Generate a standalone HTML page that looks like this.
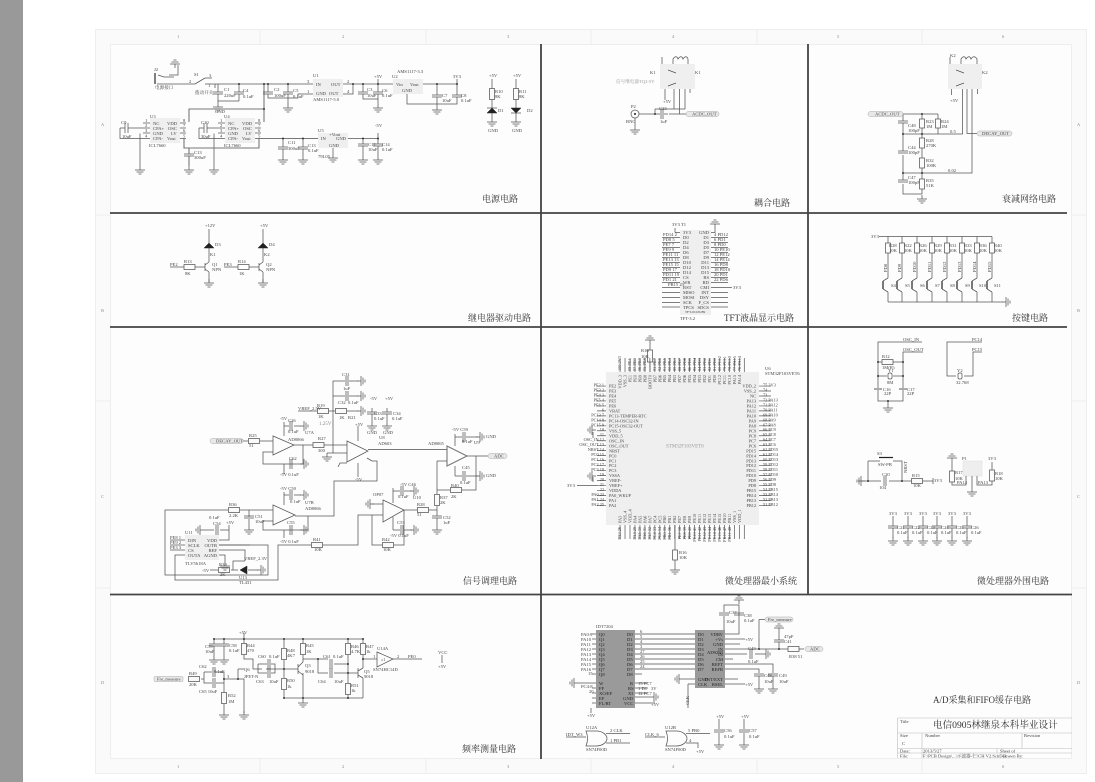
<!DOCTYPE html>
<html><head><meta charset="utf-8"><style>
html,body{margin:0;padding:0;background:#fff}
svg{display:block}
text{font-family:"Liberation Serif","Noto Serif CJK SC",serif;font-size:4.6px;fill:#444}
.w,.w *{fill:none;stroke:#555;stroke-width:.75}
.t{stroke-width:1.1;stroke:#777}
.b{fill:#222;stroke:#222;stroke-width:.5}
.e{text-anchor:end}
.h{font-family:"Liberation Serif","Noto Serif CJK SC",serif;font-size:9px;fill:#333}
.m{font-size:4.3px}
.z{font-size:4.5px;fill:#888}
.p{fill:#e8e8e8;stroke:#aaa;stroke-width:.5}
.c{fill:#efefef;stroke:none}
</style></head><body>
<svg width="1095" height="782" viewBox="0 0 1095 782" xmlns="http://www.w3.org/2000/svg">
<defs>
<g id="g" class="w"><path d="M0-4V0M-5 0H5M-3.5 2H3.5M-1.5 4H1.5"/></g>
<g id="gr" class="w"><path d="M-4 0H0M0-5V5M2-3.5V3.5M4-1.5V1.5"/></g>
<g id="gl" class="w"><path d="M4 0H0M0-5V5M-2-3.5V3.5M-4-1.5V1.5"/></g>
<g id="gu" class="w"><path d="M0 4V0M-5 0H5M-3.5-2H3.5M-1.5-4H1.5"/></g>
<g id="rv" class="w"><rect x="-2.5" y="-5.5" width="5" height="11" style="fill:#fafafa"/></g>
<g id="rh" class="w"><rect x="-5.5" y="-2.5" width="11" height="5" style="fill:#fafafa"/></g>
<g id="cv" class="w"><path d="M-5-1H5M-5 1H5"/></g>
<g id="ch" class="w"><path d="M-1-5V5M1-5V5"/></g>
<circle id="d" r="1" fill="#333"/>
</defs>
<rect width="1095" height="782" fill="#fff"/>
<rect x="0" y="0" width="23" height="782" fill="#999"/>
<rect x="95.5" y="29.5" width="991" height="744" fill="#fafafa" stroke="#eee"/>
<rect x="110.5" y="44.5" width="961" height="714" fill="#fdfdfd" stroke="#eee"/>
<path stroke="#eee" fill="none" d="M260 29V44M426 29V44M591 29V44M757 29V44M922 29V44M260 759V774M426 759V774M591 759V774M757 759V774M922 759V774M95 215H110M95 401H110M95 588H110M1072 215H1087M1072 401H1087M1072 588H1087"/>
<text class="z" x="177" y="38">1</text><text class="z" x="342" y="38">2</text><text class="z" x="507" y="38">3</text><text class="z" x="672" y="38">4</text><text class="z" x="837" y="38">5</text><text class="z" x="1002" y="38">6</text>
<text class="z" x="177" y="768">1</text><text class="z" x="342" y="768">2</text><text class="z" x="507" y="768">3</text><text class="z" x="672" y="768">4</text><text class="z" x="837" y="768">5</text><text class="z" x="1002" y="768">6</text>
<text class="z" x="101" y="126">A</text><text class="z" x="101" y="312">B</text><text class="z" x="101" y="498">C</text><text class="z" x="101" y="684">D</text>
<text class="z" x="1077" y="126">A</text><text class="z" x="1077" y="312">B</text><text class="z" x="1077" y="498">C</text><text class="z" x="1077" y="684">D</text>
<path fill="none" stroke="#444" stroke-width="1.8" d="M110 213H1067M110 327H1067M110 594.5H1072M541 44V759M808 44V594"/>

<!-- 电源 -->
<rect class="c" x="150" y="118" width="30" height="25"/><rect class="c" x="225" y="118" width="30" height="25"/>
<rect class="c" x="313" y="79" width="30" height="18"/><rect class="c" x="393" y="79" width="30" height="15"/><rect class="c" x="318" y="133" width="30" height="15"/>
<path class="w" d="M154.5 73V84M155.5 73V84M157 84H195M195 84L205 78M205 78H212M205 84H215V88M158 75L164 77H174M169 75H178V65M215 84H313M218 84V92M218 94V103M239 84V92M239 94V101M218 101H239M268 84V92M268 94V98H288V94M288 84V92M288 98V104M288 98H298V94H313"/>
<path class="w t" d="M264 84V109H189V122M264 109V122"/>
<path class="w" d="M343 84H393M343 94H353V84M363 84V92M363 94V99H378V94M378 79V92M378 99V104M423 84H457V79M437 84V95M437 97V106M407 94V104H457V97M457 84V95M492 79V89M492 99V108M492 113V118M516 79V89M516 99V108M516 113V118"/>
<path class="w" d="M143 123H150M143 128H150M143 133H150M143 138.5H150M180 123H186M180 128H186M180 133H186M180 138.5H186M218 123H225M218 128H225M218 133H225M218 138.5H225M255 123H261M255 128H261M255 133H261M255 138.5H261M120 128H125M128 128H143M120 128V138.5H143M140 133.5V166M199 128H204M207 128H218M199 128V138.5H218M214 133.5V166"/>
<path class="w t" d="M184 138.5V148H259V138.5H318M189 148V154M189 156V166"/>
<path class="w" d="M283 138.5V147M283 149V156M303 138.5V147M303 149V156M348 138.5H378V133M363 138.5V144M363 146V156M378 138.5V144M378 146V156M333 148V154"/>
<path class="w" d="M213 92H223M213 94H223M234 92H244M234 94H244M263 92H273M263 94H273M283 92H293M283 94H293M358 92H368M373 92H383M358 94H368M373 94H383M432 95H442M432 97H442M452 95H462M452 97H462M125 123V133M128 123V133M204 123V133M207 123V133M184 154H194M184 156H194M278 147H288M278 149H288M298 147H308M298 149H308M358 144H368M358 146H368M373 144H383M373 146H383"/>
<polygon class="b" points="487,113 497,113 492,108"/><path class="w" d="M487 108H497"/>
<polygon class="b" points="511,108 521,108 516,113"/><path class="w" d="M511 113H521"/>
<use href="#rv" x="492" y="94"/><use href="#rv" x="516" y="94"/>
<use href="#g" x="218" y="107"/><use href="#g" x="288" y="108"/><use href="#g" x="378" y="108"/><use href="#g" x="437" y="110"/><use href="#g" x="492" y="122"/><use href="#g" x="516" y="122"/><use href="#g" x="140" y="170"/><use href="#g" x="189" y="170"/><use href="#g" x="214" y="170"/><use href="#g" x="283" y="160"/><use href="#g" x="303" y="160"/><use href="#g" x="363" y="160"/><use href="#g" x="378" y="160"/><use href="#g" x="333" y="158"/><use href="#gu" x="175" y="64"/>
<use href="#d" x="264" y="84"/><use href="#d" x="239" y="84"/><use href="#d" x="288" y="84"/><use href="#d" x="268" y="84"/><use href="#d" x="353" y="84"/><use href="#d" x="363" y="84"/><use href="#d" x="378" y="84"/><use href="#d" x="437" y="84"/><use href="#d" x="457" y="84"/><use href="#d" x="264" y="109"/><use href="#d" x="283" y="138.5"/><use href="#d" x="303" y="138.5"/><use href="#d" x="363" y="138.5"/><use href="#d" x="378" y="138.5"/>
<text x="154" y="71">J2</text><text x="155" y="89">电源接口</text><text x="194" y="76">S1</text><text x="195" y="94">拨动开关</text><text x="189" y="83">2</text><text x="209" y="77">3</text><text x="208" y="87">1</text>
<text x="224" y="91">C1</text><text x="224" y="97">220uF</text><text x="243" y="92">C4</text><text x="243" y="98">0.1uF</text><text x="274" y="91">C2</text><text x="274" y="97">100uF</text><text x="293" y="92">C5</text><text x="293" y="98">0.1uF</text>
<text x="313" y="77">U1</text><text x="316" y="86">IN</text><text x="331" y="86">OUT</text><text x="316" y="95">GND</text><text x="329" y="95">OUT</text><text x="313" y="101">AMS1117-5.0</text><text x="347" y="83">2</text><text x="347" y="93">4</text><text x="307" y="83">3</text><text x="307" y="93">1</text>
<text x="367" y="91">C3</text><text x="367" y="97">10uF</text><text x="382" y="92">C6</text><text x="382" y="97">0.1uF</text><text x="374" y="78">+5V</text><text x="392" y="78">U2</text><text x="397" y="73">AMS1117-3.3</text><text x="396" y="86">Vin</text><text x="410" y="86">Vout</text><text x="402" y="92">GND</text>
<text x="442" y="97">C7</text><text x="442" y="102">10uF</text><text x="461" y="97">C8</text><text x="461" y="102">0.1uF</text><text x="453" y="78">3V3</text><text x="215" y="113">GND</text>
<text x="489" y="77">+5V</text><text x="513" y="77">+5V</text><text x="495" y="93">R10</text><text x="495" y="98">8K</text><text x="519" y="93">R11</text><text x="519" y="98">8K</text><text x="498" y="112">D1</text><text x="527" y="112">D2</text><text x="488" y="132">GND</text><text x="512" y="132">GND</text>
<text x="121" y="124">C9</text><text x="122" y="138">10uF</text><text x="150" y="118">U3</text><text x="153" y="125">NC</text><text x="153" y="130">CPA+</text><text x="153" y="135">GND</text><text x="153" y="140">CPA-</text><text x="167" y="125">VDD</text><text x="168" y="130">OSC</text><text x="171" y="135">LV</text><text x="167" y="140">Vout</text><text x="149" y="147">ICL7660</text>
<text x="145" y="122">1</text><text x="145" y="127">2</text><text x="145" y="132">3</text><text x="145" y="137.500">4</text><text x="183" y="122">8</text><text x="183" y="127">7</text><text x="183" y="132">6</text><text x="183" y="137.500">5</text><text x="220" y="122">1</text><text x="220" y="127">2</text><text x="220" y="132">3</text><text x="220" y="137.500">4</text><text x="258" y="122">8</text><text x="258" y="127">7</text><text x="258" y="132">6</text><text x="258" y="137.500">5</text>
<text x="201" y="124">C10</text><text x="201" y="138">30uF</text><text x="224" y="118">U4</text><text x="228" y="125">NC</text><text x="228" y="130">CPA+</text><text x="228" y="135">GND</text><text x="228" y="140">CPA-</text><text x="242" y="125">VDD</text><text x="243" y="130">OSC</text><text x="246" y="135">LV</text><text x="242" y="140">Vout</text><text x="224" y="147">ICL7660</text>
<text x="194" y="154">C13</text><text x="194" y="159">300uF</text><text x="288" y="144">C11</text><text x="288" y="150">300uF</text><text x="308" y="147">C13</text><text x="308" y="152">0.1uF</text><text x="318" y="132">U5</text><text x="329" y="136">+Vout</text><text x="321" y="140">IN</text><text x="336" y="140">GND</text><text x="329" y="147">GND</text><text x="318" y="158">79L05</text>
<text x="368" y="146">C12</text><text x="368" y="151">10uF</text><text x="382" y="146">C14</text><text x="382" y="151">0.1uF</text><text x="375" y="127">-5V</text>
<text class="h" x="482" y="202">电源电路</text>

<!-- 耦合 -->
<rect class="c" x="660" y="64" width="35" height="25"/>
<path class="w" d="M662 64V57M673 64V59C675 56 677 56 678 59C680 56 682 56 683 59C685 56 687 56 688 59V64M665 89V100M674 89V109M679.5 89V114M685 89V109M690 89V93M655 109H685M639 114H660M664 114H668M669 114H686M655 109V114M635 118V126M668 70L676 73M668 86L676 83"/>
<circle class="w" cx="635" cy="114" r="4"/><circle cx="635" cy="114" r="1" fill="#222"/><use href="#ch" x="662" y="114"/><use href="#g" x="635" y="130"/><use href="#d" x="655" y="114"/>
<text x="650" y="74">K1</text><text x="695" y="74">K1</text><text x="616" y="83" style="fill:#999">信号继电器TQ2-5V</text><text x="631" y="108">P2</text><text x="626" y="123">BNC</text><text x="659" y="110">C33</text><text x="660" y="123">1uF</text><text x="663" y="103">+5V</text>
<rect class="p" x="686" y="111.5" width="33" height="5" rx="2.5"/><text x="692" y="115.700">ACDC_OUT</text>
<text class="h" x="754" y="206">耦合电路</text>
<rect class="c" x="948" y="64" width="34" height="25"/>
<path class="w" d="M950 64V57M961 64V59C963 56 965 56 966 59C968 56 970 56 971 59C973 56 975 56 977 59V64M951.5 89V95M962.5 89V134H903M967 89V133.5H977M972 89V173H903M977.5 89V94M903 114V121M903 123V151M903 155V180M903 184V194H922M903 114H938M922 114V119M922 128V138M922 148V158M922 168V179M922 189V194M938 114V119M938 128V134M956 70L964 73M956 86L964 83"/>
<rect class="w" x="919.5" y="119" width="5" height="9"/><rect class="w" x="935.5" y="119" width="5" height="9"/><rect class="w" x="919.5" y="138" width="5" height="10"/><rect class="w" x="919.5" y="158" width="5" height="10"/><rect class="w" x="919.5" y="179" width="5" height="10"/>
<path class="w" d="M898 121H908M898 123H908M898 151H908M898 153H908M898 180H908M898 182H908"/><use href="#g" x="922" y="199"/><use href="#d" x="922" y="114"/><use href="#d" x="922" y="134"/><use href="#d" x="922" y="173"/><use href="#d" x="903" y="134"/><use href="#d" x="903" y="173"/>
<text x="950" y="57">K2</text><text x="982" y="74">K2</text><text x="950" y="102">+5V</text><rect class="p" x="868" y="111.5" width="35" height="5" rx="2.5"/><text x="875" y="115.700">ACDC_OUT</text><rect class="p" x="977" y="131" width="35" height="5" rx="2.5"/><text x="982" y="135.200">DECAY_OUT</text>
<text x="926" y="123">R23</text><text x="926" y="128">1M</text><text x="941" y="123">R24</text><text x="941" y="128">1M</text><text x="950" y="133">0.5</text><text x="926" y="142">R28</text><text x="926" y="147">270K</text><text x="926" y="162">R32</text><text x="926" y="167">100K</text><text x="948" y="172">0.02</text><text x="926" y="182">R35</text><text x="926" y="187">51K</text><text x="908" y="127">C48</text><text x="908" y="132">100pF</text><text x="908" y="149">C44</text><text x="908" y="154">100pF</text><text x="908" y="179">C47</text><text x="908" y="184">100pF</text>
<text class="h" x="1002" y="202">衰减网络电路</text>

<!-- 继电器驱动 -->
<path class="w" d="M209 229V243M209 248V262M170 267H184M195 267H205M205 263V271M205 265L209 262M205 269L209 272M209 272V282M263 229V243M263 248V262M224 267H238M249 267H259M259 263V271M259 265L263 262M259 269L263 272M263 272V282"/>
<rect class="w" x="184" y="264.5" width="11" height="5"/><rect class="w" x="238" y="264.5" width="11" height="5"/>
<polygon class="b" points="204,248 214,248 209,243"/><polygon class="b" points="258,248 268,248 263,243"/><use href="#g" x="209" y="283"/><use href="#g" x="263" y="283"/>
<text x="205" y="227">+12V</text><text x="260" y="227">+5V</text><text x="215" y="246">D3</text><text x="269" y="246">D4</text><text x="210" y="256">K1</text><text x="264" y="256">K2</text><text x="212" y="266">Q1</text><text x="212" y="271">NPN</text><text x="266" y="266">Q2</text><text x="266" y="271">NPN</text><text x="170" y="266">PE2</text><text x="224" y="266">PE3</text><text x="184" y="263">R13</text><text x="238" y="263">R14</text><text x="185" y="275">8K</text><text x="239" y="275">1K</text>
<text class="h" x="468" y="321">继电器驱动电路</text>

<!-- TFT -->
<rect class="c" x="680" y="230" width="31" height="85"/>
<path class="w" d="M662 237.5H680M662 242.5H680M662 247.5H680M662 252.5H680M662 257.5H680M662 262.5H680M662 267.5H680M662 272.5H680M662 277.5H680M662 282.5H680M662 287.5H680M662 292.5H680M662 297.5H680M662 302.5H680M662 307H680M711 232.5H715V228M711 237.5H728M711 242.5H728M711 247.5H728M711 252.5H728M711 257.5H728M711 262.5H728M711 267.5H728M711 272.5H728M711 277.5H728M711 282.5H728M711 287.5H732M711 292.5H728M711 297.5H728M711 302.5H728M711 307H728M675 232.5H680M675 232.5V228"/>
<use href="#gu" x="715" y="224"/>
<text x="672" y="226">3V3</text><text x="681" y="226">T1</text><text x="683" y="234">3V3</text><text x="683" y="239">D0</text><text x="683" y="244">D2</text><text x="683" y="249">D4</text><text x="683" y="254">D6</text><text x="683" y="259">D8</text><text x="683" y="264">D10</text><text x="683" y="269">D12</text><text x="683" y="274">D14</text><text x="683" y="279">CS</text><text x="683" y="284">WR</text><text x="683" y="289">RST</text><text x="683" y="294">MISO</text><text x="683" y="299">MOSI</text><text x="683" y="304">SCK</text><text x="683" y="309">TPCS</text>
<text class="e" x="709" y="234">GND</text><text class="e" x="709" y="239">D1</text><text class="e" x="709" y="244">D3</text><text class="e" x="709" y="249">D5</text><text class="e" x="709" y="254">D7</text><text class="e" x="709" y="259">D9</text><text class="e" x="709" y="264">D11</text><text class="e" x="709" y="269">D13</text><text class="e" x="709" y="274">D15</text><text class="e" x="709" y="279">RS</text><text class="e" x="709" y="284">RD</text><text class="e" x="709" y="289">CMI</text><text class="e" x="709" y="294">INT</text><text class="e" x="709" y="299">DSY</text><text class="e" x="709" y="304">F_CS</text><text class="e" x="709" y="309">SDCS</text>
<text x="663" y="236">PD14 2</text><text x="663" y="241">PD8 5</text><text x="663" y="246">PE7 7</text><text x="663" y="251">PE9 9</text><text x="663" y="256">PE11 11</text><text x="663" y="261">PE13 13</text><text x="663" y="266">PE15 15</text><text x="663" y="271">PD9 17</text><text x="663" y="276">PD11 19</text><text x="663" y="281">PD1 21</text><text x="668" y="286">PB15 23</text>
<text x="714" y="236">4 PD12</text><text x="714" y="241">6 PD1</text><text x="714" y="246">8 PD0</text><text x="714" y="251">10 PE10</text><text x="714" y="256">12 PE12</text><text x="714" y="261">14 PE14</text><text x="714" y="266">16 PD8</text><text x="714" y="271">18 PD10</text><text x="714" y="276">20 PD1</text><text x="714" y="281">22 PD6</text><text x="733" y="289">3V3</text>
<text x="685" y="313" style="font-size:3.5px">TFT-010/0289</text><text x="680" y="320">TFT-3.2</text>
<text class="h" x="724" y="321">TFT液晶显示电路</text>

<!-- 按键 -->
<path class="w" d="M879 236.5H992M888 236.5V243M902 236.5V243M917 236.5V243M932 236.5V243M947 236.5V243M962 236.5V243M977 236.5V243M992 236.5V243M888 253V278M902 253V278M917 253V278M932 253V278M947 253V278M962 253V278M977 253V278M992 253V278M888 292V302M902 292V302M917 292V302M932 292V302M947 292V302M962 292V302M977 292V302M992 292V302M888 302H1003"/>
<rect class="w" x="885.5" y="243" width="5" height="10"/><rect class="w" x="899.5" y="243" width="5" height="10"/><rect class="w" x="914.5" y="243" width="5" height="10"/><rect class="w" x="929.5" y="243" width="5" height="10"/><rect class="w" x="944.5" y="243" width="5" height="10"/><rect class="w" x="959.5" y="243" width="5" height="10"/><rect class="w" x="974.5" y="243" width="5" height="10"/><rect class="w" x="989.5" y="243" width="5" height="10"/>
<path fill="none" stroke="#222" stroke-width="1.2" d="M883 281V289M897 281V289M912 281V289M927 281V289M942 281V289M957 281V289M972 281V289M987 281V289"/>
<path class="w" d="M888 278L883 281M902 278L897 281M917 278L912 281M932 278L927 281M947 278L942 281M962 278L957 281M977 278L972 281M992 278L987 281M888 292L883 289M902 292L897 289M917 292L912 289M932 292L927 289M947 292L942 289M962 292L957 289M977 292L972 289M992 292L987 289"/>
<use href="#gr" x="1006" y="302"/>
<text x="871" y="238">3V3</text><text x="889" y="247">R28</text><text x="889" y="252">10K</text><text x="904" y="247">R22</text><text x="904" y="252">10K</text><text x="919" y="247">R26</text><text x="919" y="252">10K</text><text x="934" y="247">R29</text><text x="934" y="252">10K</text><text x="949" y="247">R31</text><text x="949" y="252">10K</text><text x="964" y="247">R33</text><text x="964" y="252">10K</text><text x="979" y="247">R36</text><text x="979" y="252">10K</text><text x="994" y="247">R40</text><text x="994" y="252">10K</text>
<text transform="translate(887 272)rotate(-90)">PD8</text><text transform="translate(901 272)rotate(-90)">PD9</text><text transform="translate(916 272)rotate(-90)">PD10</text><text transform="translate(931 272)rotate(-90)">PD11</text><text transform="translate(946 272)rotate(-90)">PD12</text><text transform="translate(961 272)rotate(-90)">PD13</text><text transform="translate(976 272)rotate(-90)">PD14</text><text transform="translate(991 272)rotate(-90)">PD15</text>
<text x="891" y="287">S4</text><text x="905" y="287">S5</text><text x="920" y="287">S6</text><text x="935" y="287">S7</text><text x="950" y="287">S8</text><text x="965" y="287">S9</text><text x="979" y="287">S10</text><text x="994" y="287">S11</text>
<text class="h" x="1012" y="321">按键电路</text>

<!-- 信号调理 -->
<path class="w t" d="M368 449.5H447"/>
<path class="w" d="M243 441H248M260 441H273M294 445H313M324 445H347M303 445V464H263V452H273M284 422V436M284 426H289M294 426H301M284 464V474M284 464H289M294 464H301M333 453V381H345M349 381H358M333 396H345M349 396H358M333 411H318M298 411H317M329 411H335M347 411H358M333 453H347M327 453H333M347 463H340L338 467M372 408V412M372 414V422M387 408V412M387 414V422M358 426V441M358 463V477"/>
<polygon class="w" points="273,436 273,455 294,445"/><polygon class="w" points="347,441 347,462 368,451"/><polygon class="w t" points="447,446 447,466 467,456"/><polygon class="w" points="273,505 273,525 295,515"/><polygon class="w" points="383,500 383,522 404,510"/>
<path class="w" d="M367 458L372 461H377V481H334V516H295M308 516V530H263V521H273M273 510H240M228 510H165V575H268V545H218M249 510V517M249 519V526M284 492V505M284 495H289M294 495H301M284 530V538M284 530H289M294 530H301M467 456H488M476 456V490H462M450 490H437M437 461H447M437 461V494M437 506V516M437 518V526M404 510H417M429 510H437M372 504H383M383 515H358V545H323M311 545H278V580H175V555H185M372 515V545H382M394 545H404V510"/>
<path class="w" d="M244 516H254M244 518H254M432 516H442M432 518H442M367 412H377M367 414H377M382 412H392M382 414H392"/>
<path class="w" d="M455 446V434M455 437H462M466 437H478M455 466V476M455 476H462M466 476H478M393 503V488M393 491H400M404 491H412M393 517V530M393 530H400M404 530H412"/>
<use href="#ch" x="291" y="426"/><use href="#ch" x="291" y="464"/><use href="#ch" x="347" y="381"/><use href="#ch" x="347" y="396"/><use href="#ch" x="291" y="495"/><use href="#ch" x="291" y="530"/><use href="#ch" x="464" y="437"/><use href="#ch" x="464" y="476"/><use href="#ch" x="402" y="491"/><use href="#ch" x="402" y="530"/>
<use href="#rh" x="254" y="441"/><use href="#rh" x="318.5" y="445"/><use href="#rh" x="323" y="411"/><use href="#rh" x="341" y="411"/><use href="#rh" x="234" y="510"/><use href="#rh" x="423" y="510"/><use href="#rh" x="456" y="490"/><use href="#rh" x="317" y="545"/><use href="#rh" x="388" y="545"/><use href="#rv" x="437" y="500"/>
<use href="#gr" x="304" y="426"/><use href="#gr" x="304" y="464"/><use href="#gr" x="361" y="381"/><use href="#gr" x="361" y="396"/><use href="#gr" x="361" y="411"/><use href="#gr" x="304" y="495"/><use href="#gr" x="304" y="530"/><use href="#gr" x="480" y="437"/><use href="#gr" x="480" y="476"/><use href="#gr" x="414" y="491"/><use href="#gr" x="414" y="530"/><use href="#gl" x="370" y="504"/><use href="#g" x="327" y="457"/><use href="#g" x="372" y="426"/><use href="#g" x="387" y="426"/><use href="#g" x="249" y="530"/><use href="#g" x="437" y="530"/>
<rect class="p" x="210" y="438.5" width="33" height="5" rx="2.5"/><text x="216" y="442.700">DECAY_OUT</text><rect class="p" x="488" y="453.5" width="19" height="5" rx="2.5"/><text x="494" y="457.700">ADC</text>
<text x="249" y="437">R25</text><text x="249" y="447">51</text><text x="318" y="440">R27</text><text x="318" y="452">300</text><text x="317" y="407">R19</text><text x="318" y="418">1K</text><text x="339" y="419">1K</text><text x="348" y="419">R21</text><text x="298" y="410">VREF_2.5V</text><text x="319" y="425" style="font-size:5px;fill:#888">1.25V</text>
<text x="342" y="376">C31</text><text x="343" y="390">1uF</text><text x="338" y="404">C32</text><text x="348" y="404">0.1uF</text><text x="370" y="400">-5V</text><text x="385" y="400">+5V</text><text x="374" y="415">C33</text><text x="393" y="415">C34</text><text x="374" y="420">0.1uF</text><text x="392" y="420">0.1uF</text><text x="367" y="434">GND</text><text x="383" y="434">GND</text>
<text x="280" y="420">-5V</text><text x="288" y="422">C26</text><text x="288" y="433">0.1uF</text><text x="305" y="434">U7A</text><text x="288" y="441">AD8066</text><text x="289" y="460">C62</text><text x="280" y="476">-5V 0.1uF</text><text x="355" y="426">+5V</text><text x="379" y="439">U8</text><text x="378" y="445">AD603</text><text x="355" y="481">-5V</text><text x="428" y="445">AD8065</text><text x="474" y="444">U9</text><text x="452" y="431">-5V C59</text><text x="462" y="443">0.1uF</text><text x="486" y="438">GND</text><text x="486" y="477">GND</text><text x="462" y="469">C45</text><text x="460" y="484">0.1uF</text><text x="451" y="487">R40</text><text x="451" y="498">2K</text><text x="440" y="499">R37</text><text x="440" y="504">2K</text><text x="443" y="519">C52</text><text x="443" y="524">1uF</text>
<text x="373" y="496">OP07</text><text x="400" y="486">-5V C46</text><text x="398" y="498">0.1uF</text><text x="413" y="499">U10</text><text x="397" y="524">C53</text><text x="390" y="537">-5V 0.1uF</text><text x="417" y="506">R28</text><text x="417" y="516">51</text><text x="382" y="541">R42</text><text x="383" y="551">10K</text><text x="313" y="541">R41</text><text x="314" y="551">10K</text>
<text x="229" y="506">R36</text><text x="229" y="517">2.2K</text><text x="255" y="518">C51</text><text x="255" y="523">10uF</text><text x="280" y="490">-5V C50</text><text x="290" y="503">0.1uF</text><text x="305" y="504">U7B</text><text x="305" y="510">AD8066</text><text x="287" y="524">C55</text><text x="280" y="543">-5V 0.1uF</text>
<rect class="c" x="185" y="535" width="34" height="25"/><path class="w" d="M170 540H185M170 545H185M170 550H185M219 540H229V525M204 530H214M220 530H229M219 545H250M219 550H245V561M219 555H225V562M210 570H218M231 570H238M233 570V561H245M248 570H258"/>
<use href="#ch" x="217" y="530"/><use href="#rh" x="224" y="570"/><polygon class="b" points="240,570 247,566 247,574"/><use href="#gl" x="200" y="530"/><use href="#gr" x="261" y="570"/><use href="#g" x="225" y="566"/>
<text x="185" y="534">U11</text><text x="170" y="539">PE8 1</text><text x="170" y="544">PE9 2</text><text x="170" y="549">PE3 3</text><text x="188" y="542">DIN</text><text x="188" y="547">SCLK</text><text x="188" y="552">CS</text><text x="188" y="557">OUTA</text><text class="e" x="217" y="542">VDD</text><text class="e" x="217" y="547">OUTB</text><text class="e" x="217" y="552">REF</text><text class="e" x="217" y="557">AGND</text><text x="185" y="565">TLV5618A</text><text x="209" y="519">0.1uF</text><text x="213" y="525">C54</text><text x="226" y="524">+5V</text><text x="244" y="560">VREF_2.3V</text><text x="219" y="566">R39</text><text x="220" y="576">2K</text><text x="202" y="572">-5V</text><text x="239" y="579">U13</text><text x="239" y="584">TL431</text>
<text class="h" x="463" y="584">信号调理电路</text>

<!-- MCU -->
<rect x="606" y="372" width="153" height="153" fill="#efefef"/>
<g fill="none" stroke="#555">
<path stroke-width="9" stroke-dasharray=".7 4.27" d="M601.5 385.7V510"/>
<path stroke-width="12" stroke-dasharray=".7 4.27" d="M765 385.7V510"/>
<path stroke-width="14" stroke-dasharray=".7 4.27" d="M619.7 365H745"/>
<path stroke-width="14" stroke-dasharray=".7 4.27" d="M619.7 532H745"/>
</g>
<text class="m" x="609" y="387.7">PE2</text><text class="m" x="609" y="392.7">PE3</text><text class="m" x="609" y="397.6">PE4</text><text class="m" x="609" y="402.6">PE5</text><text class="m" x="609" y="407.6">PE6</text><text class="m" x="609" y="412.6">VBAT</text><text class="m" x="609" y="417.5">PC13-TEMPER-RTC</text><text class="m" x="609" y="422.5">PC14-OSC32-IN</text><text class="m" x="609" y="427.5">PC15-OSC32-OUT</text><text class="m" x="609" y="432.4">VSS_5</text><text class="m" x="609" y="437.4">VDD_5</text><text class="m" x="609" y="442.4">OSC_IN</text><text class="m" x="609" y="447.3">OSC_OUT</text><text class="m" x="609" y="452.3">NRST</text><text class="m" x="609" y="457.3">PC0</text><text class="m" x="609" y="462.3">PC1</text><text class="m" x="609" y="467.2">PC2</text><text class="m" x="609" y="472.2">PC3</text><text class="m" x="609" y="477.2">VSSA</text><text class="m" x="609" y="482.1">VREF-</text><text class="m" x="609" y="487.1">VREF+</text><text class="m" x="609" y="492.1">VDDA</text><text class="m" x="609" y="497">PA0_WKUP</text><text class="m" x="609" y="502">PA1</text><text class="m" x="609" y="507">PA2</text>
<text class="m e" x="756" y="387.7">VDD_2</text><text class="m e" x="756" y="392.7">VSS_2</text><text class="m e" x="756" y="397.6">NC</text><text class="m e" x="756" y="402.6">PA13</text><text class="m e" x="756" y="407.6">PA12</text><text class="m e" x="756" y="412.6">PA11</text><text class="m e" x="756" y="417.5">PA10</text><text class="m e" x="756" y="422.5">PA9</text><text class="m e" x="756" y="427.5">PA8</text><text class="m e" x="756" y="432.4">PC9</text><text class="m e" x="756" y="437.4">PC8</text><text class="m e" x="756" y="442.4">PC7</text><text class="m e" x="756" y="447.3">PC6</text><text class="m e" x="756" y="452.3">PD15</text><text class="m e" x="756" y="457.3">PD14</text><text class="m e" x="756" y="462.3">PD13</text><text class="m e" x="756" y="467.2">PD12</text><text class="m e" x="756" y="472.2">PD11</text><text class="m e" x="756" y="477.2">PD10</text><text class="m e" x="756" y="482.1">PD9</text><text class="m e" x="756" y="487.1">PD8</text><text class="m e" x="756" y="492.1">PB15</text><text class="m e" x="756" y="497">PB14</text><text class="m e" x="756" y="502">PB13</text><text class="m e" x="756" y="507">PB12</text>
<text class="m e" x="604" y="386.5">PE2 1</text><text class="m e" x="604" y="391.5">PE3 2</text><text class="m e" x="604" y="396.4">PE4 3</text><text class="m e" x="604" y="401.4">PE5 4</text><text class="m e" x="604" y="406.4">PE6 5</text><text class="m e" x="604" y="411.4">6</text><text class="m e" x="604" y="416.3">PC13 7</text><text class="m e" x="604" y="421.3">PC14 8</text><text class="m e" x="604" y="426.3">PC15 9</text><text class="m e" x="604" y="431.2">10</text><text class="m e" x="604" y="436.2">11</text><text class="m e" x="604" y="441.2">OSC_IN 12</text><text class="m e" x="604" y="446.1">OSC_OUT 13</text><text class="m e" x="604" y="451.1">NRST 14</text><text class="m e" x="604" y="456.1">PC0 15</text><text class="m e" x="604" y="461.1">PC1 16</text><text class="m e" x="604" y="466">PC2 17</text><text class="m e" x="604" y="471">PC3 18</text><text class="m e" x="604" y="476">19</text><text class="m e" x="604" y="480.9">20</text><text class="m e" x="604" y="485.9">21</text><text class="m e" x="604" y="490.9">22</text><text class="m e" x="604" y="495.8">PA0 23</text><text class="m e" x="604" y="500.8">PA1 24</text><text class="m e" x="604" y="505.8">PA2 25</text>
<text class="m" x="763" y="386.5">75 3V3</text><text class="m" x="763" y="391.5">74</text><text class="m" x="763" y="396.4">73</text><text class="m" x="763" y="401.4">72 PA13</text><text class="m" x="763" y="406.4">71 PA12</text><text class="m" x="763" y="411.4">70 PA11</text><text class="m" x="763" y="416.3">69 PA10</text><text class="m" x="763" y="421.3">68 PA9</text><text class="m" x="763" y="426.3">67 PA8</text><text class="m" x="763" y="431.2">66 PC9</text><text class="m" x="763" y="436.2">65 PC8</text><text class="m" x="763" y="441.2">64 PC7</text><text class="m" x="763" y="446.1">63 PC6</text><text class="m" x="763" y="451.1">62 PD15</text><text class="m" x="763" y="456.1">61 PD14</text><text class="m" x="763" y="461.1">60 PD13</text><text class="m" x="763" y="466">59 PD12</text><text class="m" x="763" y="471">58 PD11</text><text class="m" x="763" y="476">57 PD10</text><text class="m" x="763" y="480.9">56 PD9</text><text class="m" x="763" y="485.9">55 PD8</text><text class="m" x="763" y="490.9">54 PB15</text><text class="m" x="763" y="495.8">53 PB14</text><text class="m" x="763" y="500.8">52 PB13</text><text class="m" x="763" y="505.8">51 PB12</text>
<text class="m e" transform="translate(621.5 375)rotate(-90)">VDD_3</text><text class="m e" transform="translate(626.5 375)rotate(-90)">VSS_3</text><text class="m e" transform="translate(631.4 375)rotate(-90)">PE1</text><text class="m e" transform="translate(636.4 375)rotate(-90)">PE0</text><text class="m e" transform="translate(641.4 375)rotate(-90)">PB9</text><text class="m e" transform="translate(646.4 375)rotate(-90)">PB8</text><text class="m e" transform="translate(651.3 375)rotate(-90)">BOOT0</text><text class="m e" transform="translate(656.3 375)rotate(-90)">PB7</text><text class="m e" transform="translate(661.3 375)rotate(-90)">PB6</text><text class="m e" transform="translate(666.2 375)rotate(-90)">PB5</text><text class="m e" transform="translate(671.2 375)rotate(-90)">PB4</text><text class="m e" transform="translate(676.2 375)rotate(-90)">PB3</text><text class="m e" transform="translate(681.1 375)rotate(-90)">PD7</text><text class="m e" transform="translate(686.1 375)rotate(-90)">PD6</text><text class="m e" transform="translate(691.1 375)rotate(-90)">PD5</text><text class="m e" transform="translate(696.1 375)rotate(-90)">PD4</text><text class="m e" transform="translate(701 375)rotate(-90)">PD3</text><text class="m e" transform="translate(706 375)rotate(-90)">PD2</text><text class="m e" transform="translate(711 375)rotate(-90)">PD1</text><text class="m e" transform="translate(715.9 375)rotate(-90)">PD0</text><text class="m e" transform="translate(720.9 375)rotate(-90)">PC12</text><text class="m e" transform="translate(725.9 375)rotate(-90)">PC11</text><text class="m e" transform="translate(730.8 375)rotate(-90)">PC10</text><text class="m e" transform="translate(735.8 375)rotate(-90)">PA15</text><text class="m e" transform="translate(740.8 375)rotate(-90)">PA14</text>
<text class="m" transform="translate(621.5 523)rotate(-90)">PA3</text><text class="m" transform="translate(626.5 523)rotate(-90)">VSS_4</text><text class="m" transform="translate(631.4 523)rotate(-90)">VDD_4</text><text class="m" transform="translate(636.4 523)rotate(-90)">PA4</text><text class="m" transform="translate(641.4 523)rotate(-90)">PA5</text><text class="m" transform="translate(646.4 523)rotate(-90)">PA6</text><text class="m" transform="translate(651.3 523)rotate(-90)">PA7</text><text class="m" transform="translate(656.3 523)rotate(-90)">PC4</text><text class="m" transform="translate(661.3 523)rotate(-90)">PC5</text><text class="m" transform="translate(666.2 523)rotate(-90)">PB0</text><text class="m" transform="translate(671.2 523)rotate(-90)">PB1</text><text class="m" transform="translate(676.2 523)rotate(-90)">PB2</text><text class="m" transform="translate(681.1 523)rotate(-90)">PE7</text><text class="m" transform="translate(686.1 523)rotate(-90)">PE8</text><text class="m" transform="translate(691.1 523)rotate(-90)">PE9</text><text class="m" transform="translate(696.1 523)rotate(-90)">PE10</text><text class="m" transform="translate(701 523)rotate(-90)">PE11</text><text class="m" transform="translate(706 523)rotate(-90)">PE12</text><text class="m" transform="translate(711 523)rotate(-90)">PE13</text><text class="m" transform="translate(715.9 523)rotate(-90)">PE14</text><text class="m" transform="translate(720.9 523)rotate(-90)">PE15</text><text class="m" transform="translate(725.9 523)rotate(-90)">PB10</text><text class="m" transform="translate(730.8 523)rotate(-90)">PB11</text><text class="m" transform="translate(735.8 523)rotate(-90)">VSS_1</text><text class="m" transform="translate(740.8 523)rotate(-90)">VDD_1</text>
<text class="m" transform="translate(621 371)rotate(-90)">100 3V3</text><text class="m" transform="translate(631 371)rotate(-90)">98 PE1</text><text class="m" transform="translate(636 371)rotate(-90)">97 PE0</text><text class="m" transform="translate(641 371)rotate(-90)">96 PB9</text><text class="m" transform="translate(646 371)rotate(-90)">95 PB8</text><text class="m" transform="translate(656 371)rotate(-90)">93 PB7</text><text class="m" transform="translate(661 371)rotate(-90)">92 PB6</text><text class="m" transform="translate(666 371)rotate(-90)">91 PB5</text><text class="m" transform="translate(671 371)rotate(-90)">90 PB4</text><text class="m" transform="translate(676 371)rotate(-90)">89 PB3</text><text class="m" transform="translate(681 371)rotate(-90)">88 PD7</text><text class="m" transform="translate(686 371)rotate(-90)">87 PD6</text><text class="m" transform="translate(691 371)rotate(-90)">86 PD5</text><text class="m" transform="translate(696 371)rotate(-90)">85 PD4</text><text class="m" transform="translate(701 371)rotate(-90)">84 PD3</text><text class="m" transform="translate(706 371)rotate(-90)">83 PD2</text><text class="m" transform="translate(711 371)rotate(-90)">82 PD1</text><text class="m" transform="translate(716 371)rotate(-90)">81 PD0</text><text class="m" transform="translate(721 371)rotate(-90)">80 PC12</text><text class="m" transform="translate(726 371)rotate(-90)">79 PC11</text><text class="m" transform="translate(731 371)rotate(-90)">78 PC10</text><text class="m" transform="translate(736 371)rotate(-90)">77 PA15</text><text class="m" transform="translate(741 371)rotate(-90)">76 PA14</text>
<text class="m e" transform="translate(621 527)rotate(-90)">PA3 26</text><text class="m e" transform="translate(636 527)rotate(-90)">PA4 29</text><text class="m e" transform="translate(641 527)rotate(-90)">PA5 30</text><text class="m e" transform="translate(646 527)rotate(-90)">PA6 31</text><text class="m e" transform="translate(651 527)rotate(-90)">PA7 32</text><text class="m e" transform="translate(656 527)rotate(-90)">PC4 33</text><text class="m e" transform="translate(661 527)rotate(-90)">PC5 34</text><text class="m e" transform="translate(666 527)rotate(-90)">PB0 35</text><text class="m e" transform="translate(671 527)rotate(-90)">PB1 36</text><text class="m e" transform="translate(681 527)rotate(-90)">PE7 38</text><text class="m e" transform="translate(686 527)rotate(-90)">PE8 39</text><text class="m e" transform="translate(691 527)rotate(-90)">PE9 40</text><text class="m e" transform="translate(696 527)rotate(-90)">PE10 41</text><text class="m e" transform="translate(701 527)rotate(-90)">PE11 42</text><text class="m e" transform="translate(706 527)rotate(-90)">PE12 43</text><text class="m e" transform="translate(711 527)rotate(-90)">PE13 44</text><text class="m e" transform="translate(716 527)rotate(-90)">PE14 45</text><text class="m e" transform="translate(721 527)rotate(-90)">PE15 46</text><text class="m e" transform="translate(726 527)rotate(-90)">PB10 47</text><text class="m e" transform="translate(731 527)rotate(-90)">PB11 48</text>
<path class="w" d="M650 372V362M650 350V344M675 525V550M675 560V566M577 485.5H597M593 432V438M593 477V482"/><rect class="w" x="647.5" y="350" width="5" height="12"/><rect class="w" x="672.5" y="550" width="5" height="10"/><use href="#g" x="675" y="570"/><use href="#gu" x="650" y="340"/><use href="#gl" x="592" y="430"/><use href="#gl" x="592" y="476"/>
<text x="641" y="352">R16</text><text x="641" y="358">10K</text><text x="679" y="554">R16</text><text x="679" y="559">10K</text><text x="567" y="487">3V3</text><text x="765" y="370">U6</text><text x="765" y="375">STM32F103VET6</text><text x="666" y="447.5" style="font-size:5px;fill:#999">STM32F103VET6</text>
<text class="h" x="725" y="584">微处理器最小系统</text>

<!-- 外围 -->
<path class="w" d="M922 342H878V401H903V352H923M878 362H882M893 362H903M878 376H887M893 376H903M878 376V387M903 376V387M947 352V342H982M947 342V376H956M964 376H973V352H982M888 401V404"/>
<use href="#rh" x="887.5" y="362"/><rect class="w" x="888" y="373" width="4" height="6" rx="1.5"/><rect class="w" x="958" y="373" width="4" height="6" rx="1.5"/><path fill="none" stroke="#aaa" stroke-width="2" d="M874 389H882M899 389H907"/><use href="#g" x="888" y="408"/>
<use href="#d" x="878" y="362"/><use href="#d" x="903" y="362"/><use href="#d" x="878" y="376"/><use href="#d" x="903" y="376"/><use href="#d" x="888" y="401"/>
<text x="903" y="341">OSC_IN</text><text x="903" y="351">OSC_OUT</text><text x="882" y="358">R12</text><text x="882" y="369">1M(R)</text><text x="888" y="372">Y1</text><text x="887" y="384">8M</text><text x="883" y="391">C16</text><text x="907" y="391">C17</text><text x="884" y="395">22P</text><text x="907" y="395">22P</text><text x="972" y="341">PC14</text><text x="972" y="351">PC15</text><text x="957" y="372">Y2</text><text x="956" y="384">32.768</text>
<path class="w" d="M868 461V481M868 461H880M893 461H902V481M858 481H881M889 481H912M922 481H933M933 478V484"/><path fill="none" stroke="#222" stroke-width="1.2" d="M879 457.5H893"/><use href="#ch" x="885" y="481"/><use href="#rh" x="917" y="481"/><use href="#gl" x="861" y="481"/><use href="#d" x="868" y="481"/><use href="#d" x="902" y="481"/>
<text x="877" y="455">S3</text><text x="878" y="466">SW-PB</text><text x="882" y="476">C20</text><text x="886" y="489" class="e">104</text><text x="912" y="477">R15</text><text x="913" y="487">10K</text><text x="934" y="482">3V3</text><text transform="translate(907 473)rotate(-90)">NRST</text>
<rect x="963" y="461" width="19" height="15" fill="#eee" stroke="#ddd" stroke-width=".5"/>
<path class="w" d="M952 462V471M952 482V485H966V476M972 476V488M977 476V485H992V481M992 462V470"/><rect class="w" x="949.5" y="471" width="5" height="11"/><rect class="w" x="989.5" y="470" width="5" height="11"/><use href="#gu" x="952" y="458"/><use href="#g" x="972" y="492"/>
<text x="962" y="460">P1</text><text x="955" y="474">R17</text><text x="955" y="480">10K</text><text x="957" y="484">PA14</text><text x="978" y="484">PA13</text><text x="995" y="475">R18</text><text x="995" y="480">10K</text><text x="988" y="460">3V3</text>
<path class="w" d="M893 516V526M893 528V538M908 516V526M908 528V538M923 516V526M923 528V538M937 516V526M937 528V538M952 516V526M952 528V538M967 516V526M967 528V538"/>
<use href="#cv" x="893" y="527"/><use href="#cv" x="908" y="527"/><use href="#cv" x="923" y="527"/><use href="#cv" x="937" y="527"/><use href="#cv" x="952" y="527"/><use href="#cv" x="967" y="527"/>
<use href="#g" x="893" y="541"/><use href="#g" x="908" y="541"/><use href="#g" x="923" y="541"/><use href="#g" x="937" y="541"/><use href="#g" x="952" y="541"/><use href="#g" x="967" y="541"/>
<text x="889" y="515">3V3</text><text x="904" y="515">3V3</text><text x="919" y="515">3V3</text><text x="933" y="515">3V3</text><text x="948" y="515">3V3</text><text x="963" y="515">3V3</text>
<text x="897" y="529">C21</text><text x="897" y="534">0.1uF</text><text x="912" y="529">C22</text><text x="912" y="534">0.1uF</text><text x="927" y="529">C23</text><text x="927" y="534">0.1uF</text><text x="941" y="529">C24</text><text x="941" y="534">0.1uF</text><text x="956" y="529">C25</text><text x="956" y="534">0.1uF</text><text x="971" y="529">C26</text><text x="971" y="534">0.1uF</text>
<text class="h" x="977" y="584">微处理器外围电路</text>

<!-- 频率 -->
<path class="w" d="M214 639H363M244 633V639M214 639V644M214 646V656M224 639V644M224 646V656M244 639V643M244 655V659H253V669H262M266 669H284H298M238 669V679M238 669H244M238 679H244V713M201 679H204M204 672H212M216 672H224V683H216M212 683H204V672M224 679H238M224 679V692M224 704V711M284 639V648M284 660V678M284 690V698H363M303 639V643M303 655V662M303 673V699M318 659V673H328M303 659H328M334 664H348M334 673H358M348 639V643M348 655V683M348 695V698M363 639V643M363 655V668M363 678V698M363 659H377M393 659H422M442 655V663"/>
<path class="w" d="M298 664V674M298 667L303 662M298 671L303 675M358 668V678M358 671L363 668M358 675L363 678"/>
<polygon class="w" points="377,652 377,667 393,659"/><use href="#rv" x="244" y="649"/><use href="#rv" x="284" y="654"/><use href="#rv" x="284" y="684"/><use href="#rv" x="303" y="649"/><use href="#rv" x="348" y="649"/><use href="#rv" x="348" y="689"/><use href="#rv" x="363" y="649"/><use href="#rv" x="224" y="698"/><use href="#rh" x="194" y="679"/>
<use href="#cv" x="214" y="645"/><use href="#cv" x="224" y="645"/><use href="#ch" x="214" y="672"/><use href="#ch" x="214" y="683"/><use href="#ch" x="269" y="664"/><use href="#ch" x="269" y="673"/><use href="#ch" x="331" y="664"/><use href="#ch" x="331" y="673"/><path class="w" d="M258 664H267M271 664H275V669M258 664V673H267M271 673H275V669"/>
<use href="#g" x="214" y="660"/><use href="#g" x="224" y="660"/><use href="#g" x="224" y="715"/><use href="#g" x="244" y="715"/><use href="#g" x="303" y="703"/>
<use href="#d" x="214" y="639"/><use href="#d" x="224" y="639"/><use href="#d" x="244" y="639"/><use href="#d" x="284" y="639"/><use href="#d" x="303" y="639"/><use href="#d" x="348" y="639"/><use href="#d" x="363" y="639"/><use href="#d" x="284" y="669"/><use href="#d" x="224" y="679"/><use href="#d" x="238" y="679"/><use href="#d" x="303" y="698"/><use href="#d" x="348" y="664"/><use href="#d" x="348" y="673"/><use href="#d" x="348" y="698"/><use href="#d" x="363" y="659"/><use href="#d" x="318" y="659"/><use href="#d" x="284" y="698"/>
<rect class="p" x="154" y="676.5" width="29" height="5" rx="1"/><text x="157" y="680.7">Fre_measure</text>
<text x="239" y="634">+5V</text><text x="205" y="648">C59</text><text x="205" y="653">10uF</text><text x="229" y="647">C58</text><text x="229" y="652">0.1uF</text><text x="247" y="647">R44</text><text x="247" y="652">470</text><text x="258" y="658">C60</text><text x="269" y="658">0.1uF</text><text x="256" y="683">C63</text><text x="269" y="683">10uF</text><text x="287" y="652">R48</text><text x="287" y="657">4K7</text><text x="287" y="682">R50</text><text x="287" y="688">1k</text><text x="306" y="647">R45</text><text x="306" y="653">1K</text><text x="305" y="667">Q3</text><text x="305" y="673">9018</text><text x="323" y="658">C61</text><text x="333" y="658">0.1uF</text><text x="318" y="683">C64</text><text x="334" y="683">10uF</text><text x="351" y="648">R46</text><text x="351" y="653">4.7K</text><text x="366" y="648">R47</text><text x="366" y="653">1k</text><text x="351" y="687">R51</text><text x="351" y="692">1k</text><text x="364" y="673">Q5</text><text x="364" y="678">9018</text><text x="377" y="650">U14A</text><text x="373" y="671">SN74HC14D</text><text x="381" y="661" style="font-size:4px">≥1</text><text x="373" y="658">1</text><text x="397" y="658">2</text><text x="408" y="658">PE0</text><text x="438" y="654">VCC</text><text x="438" y="668">+5V</text><text x="189" y="675">R49</text><text x="189" y="686">20K</text><text x="199" y="668">C62</text><text x="214" y="673">0.1uF</text><text x="199" y="693">C65 10uF</text><text x="228" y="697">R52</text><text x="228" y="703">1M</text><text x="244" y="671">Q6</text><text x="244" y="678">JFET-N</text><text x="227" y="678">3</text>
<text class="h" x="462" y="752">频率测量电路</text>

<!-- FIFO -->
<rect x="596" y="630" width="39" height="78" fill="#9a9a9a"/><rect x="695" y="630" width="30" height="58" fill="#9a9a9a"/>
<path class="w t" d="M635 634H695M635 639H695M635 644H695M635 649H695M635 654H695M635 659H695M635 664H695M635 669H695"/>
<path class="w" d="M592 634H596M592 639H596M592 644H596M592 649H596M592 654H596M592 659H596M592 664H596M592 669H596M592 674H596M578 683H596M592 688H596M592 693H596M592 698H596M592 703H596M591 708V713M635 674H642M635 683H648M635 688H648M635 693H648M635 697H650M635 703H655M725 634H739V605H724V612M724 616V630M725 639H745M725 644H740M725 649H789M725 654H747M755 654H762M725 659H733M725 664H773V673M725 669H759V673M759 676V685M773 676V685M725 679H738M725 684H745M683 679H695M688 684H695M688 684V708M759 619.5V649M759 619.5H765M779 632V640M779 642V649M799 649H804"/>
<use href="#ch" x="751" y="654"/><use href="#cv" x="759" y="675"/><use href="#cv" x="773" y="675"/><use href="#cv" x="779" y="641"/><use href="#cv" x="724" y="614"/><use href="#cv" x="739" y="614"/><use href="#rh" x="793.5" y="649"/>
<use href="#gu" x="739" y="600"/><use href="#gu" x="779" y="628"/><use href="#gr" x="766" y="654"/><use href="#g" x="759" y="689"/><use href="#g" x="773" y="689"/><use href="#gl" x="679" y="679"/><use href="#gl" x="574" y="683"/><use href="#gr" x="654" y="697"/>
<use href="#d" x="759" y="649"/><use href="#d" x="779" y="649"/>
<text x="599" y="636" style="fill:#222">Q0</text><text x="599" y="641" style="fill:#222">Q1</text><text x="599" y="646" style="fill:#222">Q2</text><text x="599" y="651" style="fill:#222">Q3</text><text x="599" y="656" style="fill:#222">Q4</text><text x="599" y="661" style="fill:#222">Q5</text><text x="599" y="666" style="fill:#222">Q6</text><text x="599" y="671" style="fill:#222">Q7</text><text x="599" y="676" style="fill:#222">Q8</text><text x="599" y="685" style="fill:#222">W</text><text x="599" y="690" style="fill:#222">FF</text><text x="599" y="695" style="fill:#222">XO/EF</text><text x="599" y="700" style="fill:#222">EF</text><text x="599" y="705" style="fill:#222">FL/RT</text>
<text x="627" y="636" style="fill:#222">D0</text><text x="627" y="641" style="fill:#222">D1</text><text x="627" y="646" style="fill:#222">D2</text><text x="627" y="651" style="fill:#222">D3</text><text x="627" y="656" style="fill:#222">D4</text><text x="627" y="661" style="fill:#222">D5</text><text x="627" y="666" style="fill:#222">D6</text><text x="627" y="671" style="fill:#222">D7</text><text x="627" y="676" style="fill:#222">D8</text><text x="630" y="685" style="fill:#222">R</text><text x="628" y="690" style="fill:#222">RS</text><text x="628" y="695" style="fill:#222">XI</text><text x="623" y="700" style="fill:#222">GND</text><text x="624" y="705" style="fill:#222">VCC</text>
<text x="698" y="636" style="fill:#222">D0</text><text x="698" y="641" style="fill:#222">D1</text><text x="698" y="646" style="fill:#222">D2</text><text x="698" y="651" style="fill:#222">D3</text><text x="698" y="656" style="fill:#222">D4</text><text x="698" y="661" style="fill:#222">D5</text><text x="698" y="666" style="fill:#222">D6</text><text x="698" y="671" style="fill:#222">D7</text><text x="698" y="681" style="fill:#222">GND</text><text x="698" y="686" style="fill:#222">CLK</text>
<text class="e" x="723" y="636" style="fill:#222">VDRV</text><text class="e" x="723" y="641" style="fill:#222">+Vs</text><text class="e" x="723" y="646" style="fill:#222">GND</text><text class="e" x="723" y="651" style="fill:#222">IN</text><text class="e" x="723" y="656" style="fill:#222">IN</text><text class="e" x="723" y="661" style="fill:#222">CM</text><text class="e" x="723" y="666" style="fill:#222">REFT</text><text class="e" x="723" y="671" style="fill:#222">REFB</text><text class="e" x="723" y="681" style="fill:#222">INT/EXT</text><text class="e" x="723" y="686" style="fill:#222">BSEL</text><text x="707" y="654" style="fill:#222">AD9280</text>
<text x="596" y="628">IDT7204</text><text x="581" y="636">PA0:9</text><text x="581" y="641">PA10</text><text x="581" y="646">PA11</text><text x="581" y="651">PA12</text><text x="581" y="656">PA13</text><text x="581" y="661">PA14</text><text x="581" y="666">PA15</text><text x="581" y="671">PA16</text><text x="588" y="675">15</text><text x="581" y="688">PC4:8</text><text x="589" y="693">20</text><text x="640" y="633">6</text><text x="640" y="638">5</text><text x="640" y="643">4</text><text x="640" y="648">3</text><text x="640" y="653">27</text><text x="640" y="658">26</text><text x="640" y="663">25</text><text x="640" y="668">24</text><text x="638" y="685">15 PC7</text><text x="638" y="690">1 D1</text><text x="651" y="690">3V</text><text x="638" y="695">12 PC7</text><text x="587" y="717">+5V</text><text x="651" y="706">+5V</text>
<text x="729" y="614">C37</text><text x="726" y="623">10uF</text><text x="744" y="617">C38</text><text x="744" y="622">0.1uF</text><text x="745" y="641">+5V</text><text x="784" y="638">47pF</text><text x="784" y="643">C41</text><text x="748" y="650">C43</text><text x="748" y="663">0.1uF</text><text x="764" y="677">C48</text><text x="764" y="683">10uF</text><text x="779" y="677">C49</text><text x="779" y="683">10uF</text><text x="745" y="686">+5V</text><text x="789" y="658">R38 51</text><text transform="translate(689 705)rotate(-90)">CLK</text>
<rect class="p" x="765" y="617" width="28" height="5" rx="2.5"/><text x="768" y="621">Fre_measure</text><rect class="p" x="805" y="646.5" width="18" height="5" rx="2.5"/><text x="810" y="650.7">ADC</text>
<path class="w" d="M566 737H586M606 733.5H630M606 743H630M645 737H665M686 733.5H710M686 743H698V748M719 719V729M719 733V741M744 719V729M744 733V741M586 731H596C604 731 607 736 607 738.5C607 741 604 746 596 746H586C588 741 588 736 586 731ZM666 731H676C684 731 687 736 687 738.5C687 741 684 746 676 746H666C668 741 668 736 666 731Z"/>
<use href="#cv" x="719" y="731"/><use href="#cv" x="744" y="731"/><use href="#g" x="719" y="745"/><use href="#g" x="744" y="745"/>
<text x="586" y="729">U12A</text><text x="566" y="736">IDT_W3</text><text x="610" y="732">2 CLK</text><text x="610" y="742">1 PB1</text><text x="586" y="751">SN74F00D</text><text x="665" y="729">U12B</text><text x="645" y="736">CLK_6</text><text x="688" y="732">5 PB0</text><text x="689" y="742">4</text><text x="665" y="751">SN74F00D</text><text x="696" y="753">+5V</text><text x="716" y="718">+5V</text><text x="741" y="718">+5V</text><text x="724" y="732">C56</text><text x="724" y="738">0.1uF</text><text x="749" y="732">C57</text><text x="749" y="738">0.1uF</text>
<text class="h" x="933" y="703">A/D采集和FIFO缓存电路</text>

<!-- Title block -->
<path fill="none" stroke="#bbb" stroke-width=".6" d="M897.5 718H1072M897.5 718V758M897.5 733H1072M897.5 748.5H1072M897.5 753H1072M922 733V758M1022 733V748.5M997 748.5V753"/>
<text x="900" y="723">Title</text><text class="h" x="933" y="728" style="font-size:9.6px">电信0905林继泉本科毕业设计</text><text x="900" y="737">Size</text><text x="902" y="745">C</text><text x="925" y="737">Number</text><text x="1024" y="737">Revision</text><text x="900" y="752.5">Date:</text><text x="923" y="752.5">2013/5/27</text><text x="1000" y="752.5">Sheet of</text><text x="900" y="757.5">File:</text><text x="923" y="757.5">F:\PCB Design\...\示波器-仨\CH V2.SchDoc</text><text x="1003" y="757.5">Drawn By:</text>
</svg>
</body></html>
